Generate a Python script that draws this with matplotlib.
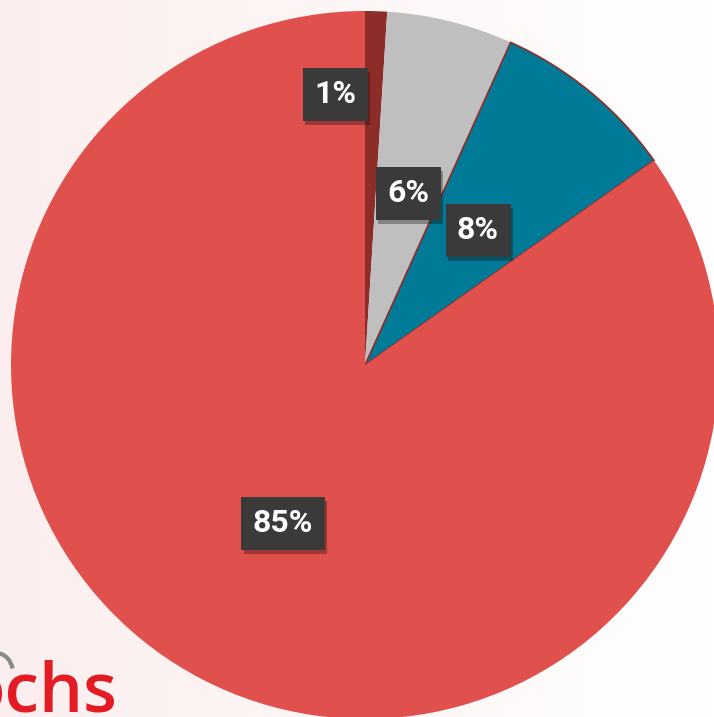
import numpy as np
import matplotlib.pyplot as plt
import matplotlib.patheffects as pe
from matplotlib.patches import Arc

# ── Data ────────────────────────────────────────────────────────────────
categories = ['A', 'B', 'C', 'D']
shares = [1.0, 5.75, 8.45, 84.8]          # percent, clockwise from 12 o'clock
labels = ['1%', '6%', '8%', '85%']
colors = ['#8C2D2A', '#BFBFBF', '#007A96', '#E0504C']

# label box centres (pixel coords, origin bottom-left)
label_pos = [(335, 623), (408, 524), (478, 487), (283, 194)]

W, H = 714, 717
fig = plt.figure(figsize=(W / 100, H / 100), dpi=100)
ax = fig.add_axes([0, 0, 1, 1])

# soft pink-to-white background
grad = np.linspace(0, 1, 256)
left = np.array([252, 238, 238]) / 255
bg = np.ones((1, 256, 3))
for k in range(3):
    bg[0, :, k] = left[k] + (1 - left[k]) * grad
ax.imshow(bg, extent=[0, W, 0, H], aspect='auto', zorder=0)

# pie
wedges, _ = ax.pie(shares, colors=colors, startangle=90, counterclock=False,
                   center=(365, 352), radius=354, frame=True,
                   wedgeprops=dict(linewidth=0))
for w in wedges:
    w.set_zorder(2)
# teal slice carries a thin dark-red outline
wedges[2].set_edgecolor('#8C2D2A')
wedges[2].set_linewidth(1.2)

ax.set_xlim(0, W)
ax.set_ylim(0, H)
ax.set_aspect('equal')
ax.axis('off')

# labels
for (x, y), lab in zip(label_pos, labels):
    t = ax.text(x, y, lab, ha='center', va='center', color='white',
                fontsize=23, fontweight='bold', family='Roboto',
                zorder=5,
                bbox=dict(boxstyle='square,pad=0.36', fc='#3A3A3A', ec='none'))
    t.get_bbox_patch().set_path_effects(
        [pe.withSimplePatchShadow(offset=(2, -3), shadow_rgbFace='black', alpha=0.3),
         pe.Normal()])

# logo fragment bottom-left
ax.text(-38, 5, 'ochs', color='#E31B23', fontsize=50, family='Open Sans',
        fontweight='semibold', ha='left', va='baseline', zorder=3)
ax.add_patch(Arc((-4, 44), 34, 40, theta1=15, theta2=80, color='#8A8A8A',
                 lw=3, zorder=4))

fig.savefig('out.png', dpi=100)
